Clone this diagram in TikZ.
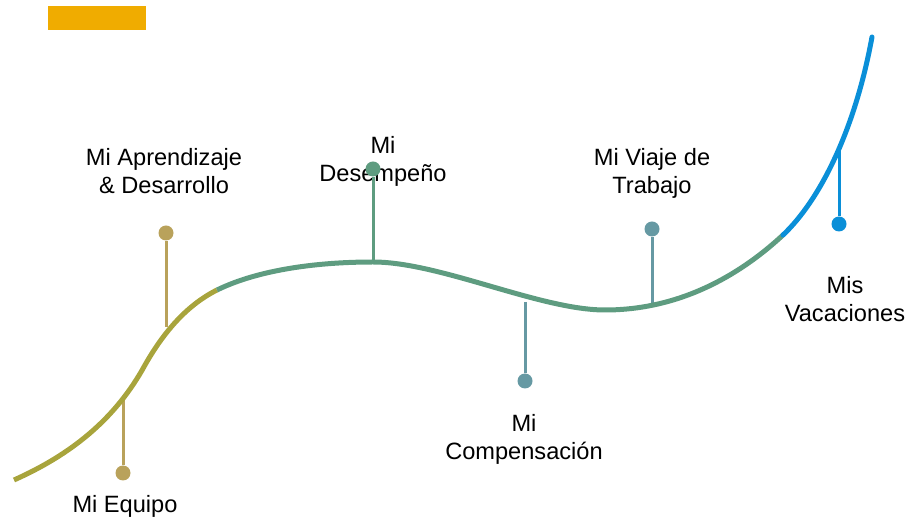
\documentclass[tikz,border=0pt]{standalone}
\usepackage{fontspec}
\setmainfont{Liberation Sans}
\usepackage{tikz}

\definecolor{barorange}{HTML}{F0AC00}
\definecolor{curveolive}{HTML}{A8A43C}
\definecolor{stemtan}{HTML}{B9A25B}
\definecolor{curvegreen}{HTML}{5E9C80}
\definecolor{stemteal}{HTML}{6699A3}
\definecolor{curveblue}{HTML}{0A8FD8}

\begin{document}
\begin{tikzpicture}[x=0.5pt, y=-0.5pt,
    curve/.style={line width=2.5pt},
    stem/.style={line width=1.5pt},
    dot/.style={circle, fill=#1, inner sep=0pt, minimum size=7.5pt},
    lbl/.style={font=\fontsize{11.8}{14}\selectfont, align=center, anchor=base, inner sep=0pt}]
    \useasboundingbox (0,0) rectangle (910,528);
    \fill[barorange] (48,6) rectangle (146,30);

    % labels (base = last line)
    \node[lbl] (equipo-t) at (125,513) {Mi Equipo};
    \node[lbl] (aprend-t) at (164,194) {Mi Aprendizaje\\\& Desarrollo};
    \node[lbl] (desemp-t) at (383,182) {Mi\\Desempeño};
    \node[lbl] (compen-t) at (524,460) {Mi\\Compensación};
    \node[lbl] (viaje-t) at (652,194) {Mi Viaje de\\Trabajo};
    \node[lbl] (vacac-t) at (845,322) {Mis\\Vacaciones};

    % stems and dots
    \coordinate (equipo-c) at (123,398);
    \coordinate (aprend-c) at (166,327);
    \coordinate (desemp-c) at (373,263);
    \coordinate (compen-c) at (525,302);
    \coordinate (viaje-c) at (652,303);
    \coordinate (vacac-c) at (839,150);
    \node[dot=stemtan] (equipo) at (123,473) {};
    \node[dot=stemtan] (aprend) at (166,233) {};
    \node[dot=curvegreen] (desemp) at (373,169) {};
    \node[dot=stemteal] (compen) at (525,381) {};
    \node[dot=stemteal] (viaje) at (652,229) {};
    \node[dot=curveblue] (vacac) at (839,224) {};
    \draw[stem, stemtan] (equipo-c) -- (equipo);
    \draw[stem, stemtan] (aprend-c) -- (aprend);
    \draw[stem, curvegreen] (desemp-c) -- (desemp);
    \draw[stem, stemteal] (compen-c) -- (compen);
    \draw[stem, stemteal] (viaje-c) -- (viaje);
    \draw[stem, curveblue] (vacac-c) -- (vacac);

    % the curve
    \coordinate (p0) at (14,480);
    \coordinate (p1) at (145,365);
    \coordinate (p2) at (217,290);
    \coordinate (p3) at (373,262);
    \coordinate (p4) at (605,310);
    \coordinate (p5) at (783,235);
    \coordinate (p6) at (872,37);
    \draw[curve, curveolive] (p0) .. controls (70,455) and (115,420) .. (p1)
      .. controls (162,335) and (185,306) .. (p2);
    \draw[curve, curvegreen] (p2) .. controls (260,269) and (320,262) .. (p3)
      .. controls (440,262) and (540,310) .. (p4)
      .. controls (680,310) and (740,275) .. (p5);
    \draw[curve, curveblue, line cap=round] (p5) .. controls (820,200) and (855,130) .. (p6);
  \end{tikzpicture}
\end{document}
